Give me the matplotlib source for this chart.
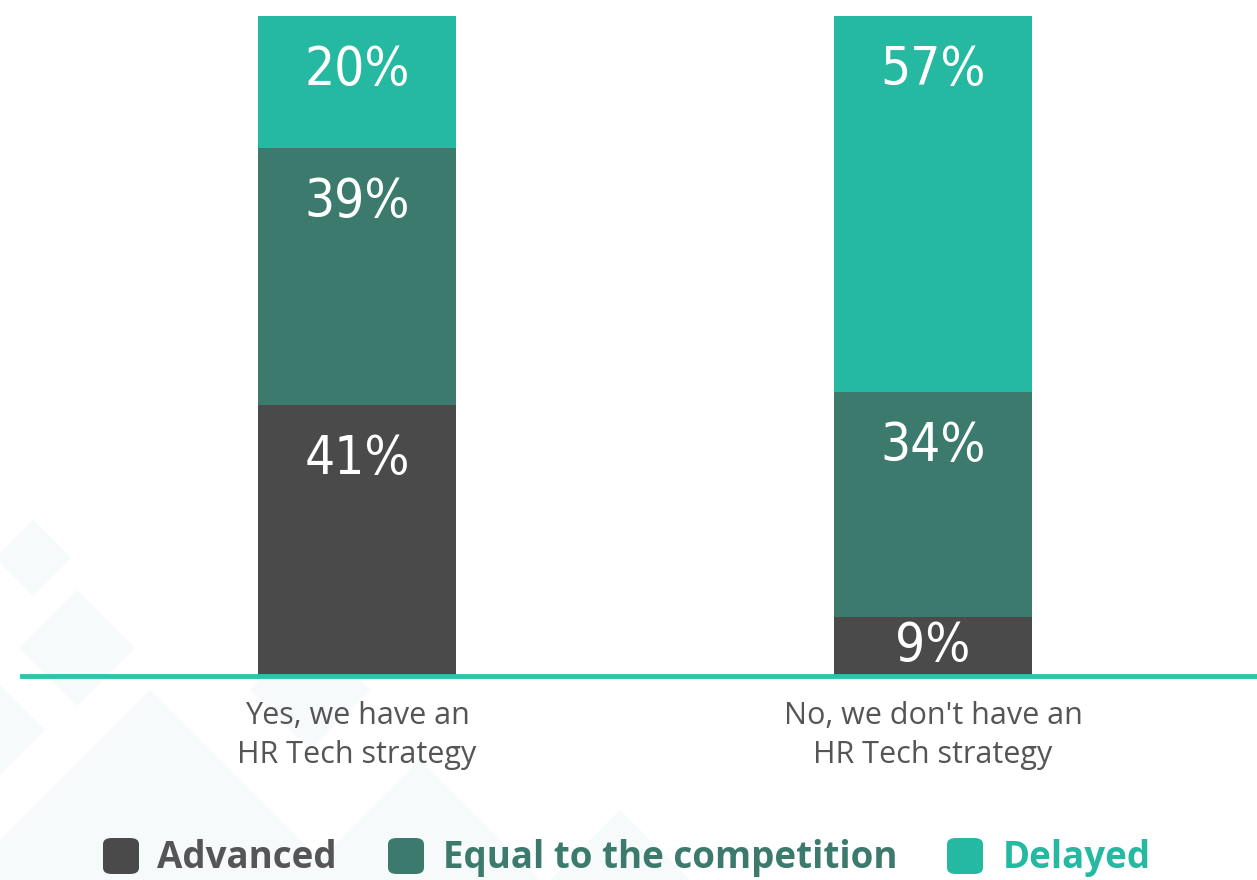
import matplotlib.pyplot as plt
from matplotlib.patches import Polygon, FancyBboxPatch
import numpy as np

categories = ["Yes, we have an\nHR Tech strategy", "No, we don't have an\nHR Tech strategy"]
series_names = ["Advanced", "Equal to the competition", "Delayed"]
advanced = [41, 9]
equal = [39, 34]
delayed = [20, 57]

bar_colors = ["#4a4a4a", "#3b7a6c", "#25b9a2"]
legend_text_colors = ["#555558", "#3b7a6c", "#25b9a2"]
line_color = "#2ec4aa"


def main():
    W, H = 1257, 880
    fig = plt.figure(figsize=(W / 100, H / 100), dpi=100, facecolor="w")

    # faint diamond pattern in the lower-left background
    for cx, cy, r in [(33, 558, 38), (77, 648, 58), (0, 730, 45), (310, 690, 60),
                      (150, 880, 190), (420, 900, 140), (620, 880, 70)]:
        pts = [((cx) / W, 1 - (cy - r) / H), ((cx + r) / W, 1 - cy / H),
               ((cx) / W, 1 - (cy + r) / H), ((cx - r) / W, 1 - cy / H)]
        fig.patches.append(Polygon(pts, closed=True, transform=fig.transFigure,
                                   facecolor="#f6fafa", edgecolor="none", zorder=-5))

    ax = fig.add_axes([0, (H - 676) / H, 1, (676 - 16) / H], zorder=1)
    ax.set_facecolor("none")
    x = np.arange(len(categories))
    width = 198 / 576
    stacks = [advanced, equal, delayed]
    bottom = np.zeros(len(categories))
    px_per_unit = (676 - 16) / 100
    for vals, col in zip(stacks, bar_colors):
        ax.bar(x, vals, width, bottom=bottom, color=col, zorder=2)
        for xi, b, v in zip(x, bottom, vals):
            # label sits near the top of its segment, or mid-segment when it is short
            off_px = min(54, v * px_per_unit / 2)
            ax.annotate(f"{v}%", (xi, b + v), xytext=(0, -off_px * 0.72),
                        textcoords="offset points", ha="center", va="center",
                        color="white", fontsize=38, family="DejaVu Sans",
                        fontstretch="condensed", zorder=3)
        bottom += np.array(vals)

    ax.set_xlim(-357 / 576, (W - 357) / 576)
    ax.set_ylim(0, 100)
    ax.axhline(0, xmin=22 / W, xmax=1, color=line_color, lw=3.5, zorder=4, clip_on=False)
    for s in ax.spines.values():
        s.set_visible(False)
    ax.set_yticks([])
    ax.set_xticks(x)
    ax.set_xticklabels(categories, fontsize=22, color="#555555", family="Open Sans",
                       linespacing=1.4)
    ax.tick_params(axis="x", length=0, pad=18)

    # legend row along the bottom
    legend_items = [(103, 157), (388, 443), (947, 1003)]
    for (bx, tx), name, col, tcol in zip(legend_items, series_names, bar_colors, legend_text_colors):
        fig.patches.append(FancyBboxPatch((bx / W, 1 - 874 / H), 36 / W, 36 / H,
                                          boxstyle="round,pad=0,rounding_size=0.007",
                                          transform=fig.transFigure, facecolor=col,
                                          edgecolor="none", zorder=2))
        fig.text(tx / W, 1 - 858 / H, name, ha="left", va="center", fontsize=26.5,
                 fontweight="bold", color=tcol, family="Open Sans",
                 fontstretch="condensed")

    fig.savefig("out.png", dpi=100, facecolor="w")
    plt.close(fig)


if __name__ == "__main__":
    main()
